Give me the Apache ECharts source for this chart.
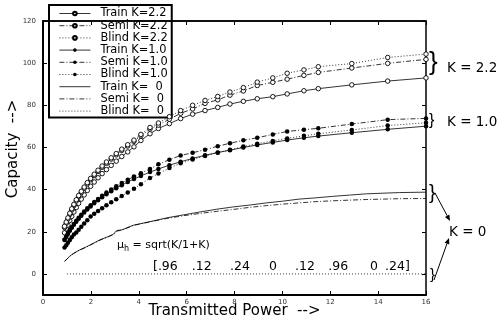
<!DOCTYPE html>
<html>
<head>
<meta charset="utf-8">
<script src="https://cdn.jsdelivr.net/npm/echarts@6/dist/echarts.min.js"></script>
<style>html,body{margin:0;padding:0;background:#fff}#c{width:497px;height:322px}</style>
</head>
<body>
<div id="c"></div>
<script>
// Transmitted power values where the marked curves were sampled
const powerX = [0.9, 0.97, 1.04, 1.12, 1.2, 1.29, 1.39, 1.49, 1.6, 1.72, 1.85, 1.99, 2.14, 2.3, 2.47, 2.65, 2.85, 3.06, 3.29, 3.54, 3.8, 4.09, 4.47, 4.82, 5.28, 5.75, 6.25, 6.77, 7.3, 7.81, 8.37, 8.95, 9.6, 10.2, 10.9, 11.5, 12.9, 14.4, 16];

const trainK22 = [19.5, 21.4, 23.2, 25.3, 27.3, 29.4, 31.5, 33.5, 35.5, 37.5, 39.6, 41.6, 43.6, 45.6, 47.6, 49.5, 51.5, 53.5, 55.7, 57.9, 60.3, 63.3, 66.5, 69.0, 71.3, 73.7, 75.8, 77.5, 79.0, 80.6, 81.9, 83.1, 84.1, 85.4, 86.9, 87.9, 89.7, 91.5, 93.0];
const semiK22  = [22.0, 24.0, 26.0, 28.2, 30.3, 32.4, 34.6, 36.6, 38.6, 40.6, 42.7, 44.7, 46.7, 48.6, 50.6, 52.5, 54.5, 56.5, 58.6, 60.7, 62.9, 65.5, 68.8, 70.6, 73.4, 76.2, 78.3, 80.9, 82.6, 84.8, 86.8, 89.4, 90.9, 92.4, 94.2, 95.6, 97.7, 99.9, 101.8];
const blindK22 = [22.6, 24.6, 26.6, 28.8, 30.9, 33.0, 35.2, 37.2, 39.2, 41.2, 43.3, 45.3, 47.3, 49.2, 51.2, 53.1, 55.1, 57.1, 59.2, 61.3, 63.5, 66.2, 69.5, 71.6, 74.6, 77.5, 80.0, 82.3, 84.2, 86.3, 88.4, 91.0, 93.0, 95.2, 96.8, 98.3, 99.8, 102.7, 104.3];

const trainK10 = [16.1, 17.6, 19.0, 20.5, 21.9, 23.3, 24.8, 26.2, 27.6, 29.1, 30.6, 32.0, 33.5, 34.9, 36.4, 37.8, 39.2, 40.7, 42.1, 43.6, 45.0, 46.5, 48.3, 49.8, 51.6, 53.2, 54.8, 56.3, 57.6, 58.7, 60.0, 61.2, 62.4, 63.5, 64.6, 65.4, 67.0, 68.6, 70.1];
const semiK10  = [16.3, 17.8, 19.3, 20.8, 22.2, 23.7, 25.2, 26.6, 28.1, 29.6, 31.1, 32.6, 34.1, 35.6, 37.1, 38.6, 40.1, 41.6, 43.1, 44.7, 46.2, 47.8, 49.8, 52.0, 54.2, 56.2, 57.5, 58.9, 60.6, 62.0, 63.4, 64.6, 66.2, 67.6, 68.4, 69.1, 71.1, 73.2, 73.8];
const blindK10 = [12.5, 13.6, 14.8, 16.1, 17.4, 18.7, 19.7, 21.0, 22.4, 23.9, 25.5, 27.2, 28.5, 29.8, 31.2, 32.6, 34.0, 35.4, 37.0, 38.6, 40.4, 42.6, 45.5, 47.6, 50.2, 52.5, 54.3, 56.0, 57.5, 58.9, 60.4, 61.8, 63.1, 64.3, 65.5, 66.5, 68.3, 70.4, 71.7];

// K = 0 curves (no markers)
const powerX0 = [0.9, 1.0, 1.1, 1.27, 1.5, 1.82, 2.1, 2.38, 2.7, 2.94, 3.08, 3.3, 3.77, 4.47, 5.17, 5.86, 6.56, 7.26, 7.95, 8.65, 9.34, 10.0, 10.7, 11.4, 12.1, 12.8, 13.5, 14.2, 14.9, 16];
const trainK0 = [6.0, 7.0, 8.3, 9.7, 11.2, 12.9, 14.5, 16.2, 17.6, 18.8, 20.6, 20.9, 23.1, 24.8, 26.6, 28.0, 29.4, 30.7, 31.8, 32.7, 33.7, 34.5, 35.5, 36.1, 36.8, 37.4, 38.0, 38.3, 38.6, 38.8];
const semiK0  = [6.0, 7.0, 8.2, 9.6, 11.1, 12.8, 14.4, 16.0, 17.5, 18.7, 20.3, 20.8, 23.0, 24.7, 26.3, 27.6, 28.7, 29.7, 30.6, 31.6, 32.4, 33.1, 33.7, 34.3, 34.7, 35.0, 35.3, 35.5, 35.7, 35.8];
const blindX0 = [1, 16];
const blindK0 = [0, 0];

const seriesNames = ['Train K=2.2', 'Semi K=2.2', 'Blind K=2.2', 'Train K=1.0', 'Semi K=1.0', 'Blind K=1.0', 'Train K=  0', 'Semi K=  0', 'Blind K=  0'];
const yTickValues = [0, 20, 40, 60, 80, 100, 120];
const muText = 'sqrt(K/1+K)';
const vectorTokens = ['[.96', '.12', '.24', '0', '.12', '.96', '0', '.24]'];

const FONT = 'DejaVu Sans';
const SOLID = 'solid';
const DASHDOT = [5, 2, 1, 2];
const DOT = [1, 2];

function zip(xs, ys) { return xs.map((x, i) => [x, ys[i]]); }

function mk(name, xs, ys, dash, marker) {
  const s = {
    name: name, type: 'line', data: zip(xs, ys), z: 5,
    lineStyle: { color: '#000', width: 0.8, type: dash },
    symbol: 'none', silent: true
  };
  if (marker === 'open') {
    s.symbol = 'circle'; s.symbolSize = 4.5;
    s.itemStyle = { color: '#fff', borderColor: '#000', borderWidth: 0.9 };
  } else if (marker === 'filled') {
    s.symbol = 'circle'; s.symbolSize = 4.5;
    s.itemStyle = { color: '#000', borderColor: '#000', borderWidth: 0 };
  } else {
    s.itemStyle = { color: '#000' };
  }
  return s;
}

const series = [
  mk(seriesNames[0], powerX, trainK22, SOLID, 'open'),
  mk(seriesNames[1], powerX, semiK22, DASHDOT, 'open'),
  mk(seriesNames[2], powerX, blindK22, DOT, 'open'),
  mk(seriesNames[3], powerX, trainK10, SOLID, 'filled'),
  mk(seriesNames[4], powerX, semiK10, DASHDOT, 'filled'),
  mk(seriesNames[5], powerX, blindK10, DOT, 'filled'),
  mk(seriesNames[6], powerX0, trainK0, SOLID, null),
  mk(seriesNames[7], powerX0, semiK0, DASHDOT, null),
  mk(seriesNames[8], blindX0, blindK0, DOT, null)
];

const legendData = seriesNames.map((n, i) => i >= 6 ? { name: n, itemStyle: { opacity: 0 } } : { name: n });

const chart = echarts.init(document.getElementById('c'), null, { renderer: 'canvas' });
const lbl = { fontFamily: FONT, fontSize: 7, color: '#333' };

function arrow(x1, y1, x2, y2) {
  const dx = x2 - x1, dy = y2 - y1, L = Math.hypot(dx, dy);
  const ux = dx / L, uy = dy / L, hl = 6, hw = 2.5;
  const bx = x2 - ux * hl, by = y2 - uy * hl;
  return [
    { type: 'line', shape: { x1: x1, y1: y1, x2: bx, y2: by }, style: { stroke: '#000', lineWidth: 1 } },
    { type: 'polygon', shape: { points: [[x2, y2], [bx - uy * hw, by + ux * hw], [bx + uy * hw, by - ux * hw]] }, style: { fill: '#000' } }
  ];
}

// vector row: rich-text tokens with fixed widths
const tokenWidths = [38.7, 38.3, 39, 26, 33.3, 41.7, 15, 30];
const vecRich = {};
let vecText = '';
vectorTokens.forEach((t, i) => {
  vecRich['t' + i] = { fontFamily: FONT, fontSize: 12.5, color: '#000', width: tokenWidths[i], align: 'left' };
  vecText += '{t' + i + '|' + t + '}';
});

chart.setOption({
  animation: false,
  backgroundColor: '#fff',
  grid: { left: 43, right: 71, top: 21, bottom: 27, containLabel: false, outerBoundsMode: 'none' },
  legend: {
    orient: 'vertical', left: 49, top: 5, z: 1,
    data: legendData,
    backgroundColor: '#fff', borderColor: '#000', borderWidth: 2, borderRadius: 0,
    padding: [3, 4, 1, 10],
    itemWidth: 31, itemHeight: 4.5, itemGap: 1.2,
    lineStyle: { width: 0.8 },
    textStyle: { fontFamily: FONT, fontSize: 11.4, color: '#000', padding: [0, 0, 0, 5] },
    selectedMode: false
  },
  xAxis: [
    {
      type: 'value', position: 'bottom', min: 0, max: 16, interval: 2,
      name: 'Transmitted Power  -->', nameLocation: 'middle', nameGap: 9, nameMoveOverlap: false,
      nameTextStyle: { fontFamily: FONT, fontSize: 15, color: '#000' },
      axisLine: { show: true, onZero: false, lineStyle: { color: '#000', width: 2 } },
      axisTick: { show: true, inside: true, length: 4, lineStyle: { color: '#000', width: 1 } },
      axisLabel: Object.assign({ margin: 4 }, lbl),
      splitLine: { show: false }
    },
    {
      type: 'value', position: 'top', min: 0, max: 16, interval: 2, z: 10,
      axisLine: { show: true, onZero: false, lineStyle: { color: '#000', width: 1.5 } },
      axisTick: { show: true, inside: true, length: 4, lineStyle: { color: '#000', width: 1 } },
      axisLabel: { show: false }, splitLine: { show: false }
    }
  ],
  yAxis: [
    {
      type: 'value', position: 'left', min: -10, max: 120,
      name: 'Capacity  -->', nameLocation: 'middle', nameGap: 22, nameMoveOverlap: false,
      nameTextStyle: { fontFamily: FONT, fontSize: 15, color: '#000', padding: [0, 0, 0, 18] },
      axisLine: { show: true, onZero: false, lineStyle: { color: '#000', width: 2 } },
      axisTick: { show: true, inside: true, length: 4, customValues: yTickValues, lineStyle: { color: '#000', width: 1 } },
      axisLabel: Object.assign({ margin: 7, customValues: yTickValues }, lbl),
      splitLine: { show: false }
    },
    {
      type: 'value', position: 'right', min: -10, max: 120,
      axisLine: { show: true, onZero: false, lineStyle: { color: '#000', width: 1.5 } },
      axisTick: { show: true, inside: true, length: 4, customValues: yTickValues, lineStyle: { color: '#000', width: 1 } },
      axisLabel: { show: false }, splitLine: { show: false }
    }
  ],
  series: series,
  graphic: [
    { type: 'line', z: 100, shape: { x1: 43, y1: 21, x2: 426, y2: 21 }, style: { stroke: '#000', lineWidth: 1.5 } },
    { type: 'text', left: 429, top: 50, style: { text: '}', font: '26px "Liberation Sans"', fill: '#000' } },
    { type: 'text', left: 447, top: 61, style: { text: 'K = 2.2', font: '13.5px "DejaVu Sans"', fill: '#000' } },
    { type: 'text', left: 429, top: 113, style: { text: '}', font: '16px "Liberation Sans"', fill: '#000' } },
    { type: 'text', left: 447, top: 115, style: { text: 'K = 1.0', font: '13.5px "DejaVu Sans"', fill: '#000' } },
    { type: 'text', left: 429, top: 183, style: { text: '}', font: '20px "Liberation Sans"', fill: '#000' } },
    { type: 'text', left: 430, top: 267, style: { text: '}', font: '15px "Liberation Sans"', fill: '#000' } },
    { type: 'text', left: 449, top: 225, style: { text: 'K = 0', font: '13.5px "DejaVu Sans"', fill: '#000' } },
    ...arrow(435, 193, 450, 221),
    ...arrow(434, 280, 449, 238),
    { type: 'text', left: 117, top: 240, style: {
        text: '{a|μ}{s|h}{a| = ' + muText + '}',
        rich: { a: { fontFamily: FONT, fontSize: 11, color: '#000' },
                s: { fontFamily: FONT, fontSize: 8, color: '#000', padding: [6, 0, 0, 0] } } } },
    { type: 'text', left: 153, top: 260, style: { text: vecText, rich: vecRich } }
  ]
});
</script>
</body>
</html>
